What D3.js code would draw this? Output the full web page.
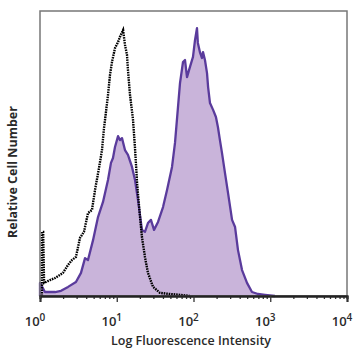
<!DOCTYPE html>
<html><head><meta charset="utf-8">
<script src="https://cdn.jsdelivr.net/npm/d3@7"></script>
<style>body{margin:0;background:#fff}svg{display:block}</style>
</head><body>
<script>
// Isotype control (black dotted)
const isoX = [1.06, 1.06, 1.1, 1.13, 1.35, 1.57, 1.82, 1.99, 2.32, 2.61, 2.94, 3.32, 3.74, 4.22, 4.76, 5.21, 5.87, 6.42, 6.82, 7.24, 7.69, 8.16, 8.67, 9.49, 10.4, 11.0, 12.1, 12.8, 13.6, 14.0, 14.9, 16.3, 17.3, 18.4, 20.1, 21.3, 23.3, 25.5, 29.7, 36.6, 49.4, 66.7, 90];
const isoY = [0, 22.5, 22.5, 4.6, 5.6, 6.3, 7.4, 8.1, 10.9, 12.6, 13.7, 20.4, 22.5, 29.1, 30.2, 37.2, 44.9, 51.2, 58.9, 64.6, 70.5, 77.5, 82.1, 87.0, 89.1, 90.9, 93.3, 88.1, 84.6, 79.3, 70.5, 61.8, 51.9, 39.6, 27.7, 20.7, 13.7, 8.1, 3.2, 1.1, 0.7, 0.4, 0];
// Stained sample (purple filled)
const stainX = [1.0, 1.0, 1.16, 1.35, 1.57, 1.88, 2.32, 2.94, 3.42, 3.86, 4.22, 4.91, 5.70, 6.62, 7.69, 8.41, 8.93, 9.49, 10.4, 11.0, 11.7, 12.8, 14.0, 15.8, 17.3, 18.9, 21.3, 23.3, 25.5, 27.9, 30.6, 34.5, 40.1, 45.2, 52.5, 57.4, 62.8, 66.7, 73.0, 77.5, 82.3, 90.0, 98.5, 104.6, 111, 114, 122, 129, 133, 141, 150, 155, 164, 180, 196, 208, 221, 235, 257, 282, 318, 348, 380, 429, 498, 578, 692, 855, 1150];
const stainY = [0, 4.6, 1.4, 1.4, 1.4, 1.8, 3.2, 4.9, 8.1, 13.3, 12.6, 19.6, 27.7, 33.0, 40.7, 46.7, 48.4, 52.3, 56.1, 54.7, 55.4, 51.2, 49.5, 45.3, 40.7, 33.7, 23.2, 22.5, 25.6, 26.7, 23.2, 26.0, 31.2, 37.2, 45.3, 53.7, 66.3, 74.7, 82.1, 82.8, 76.8, 80.4, 83.9, 89.8, 94.0, 88.8, 85.3, 83.5, 85.6, 82.8, 78.2, 73.3, 67.7, 65.3, 62.8, 59.3, 54.7, 50.2, 43.2, 36.1, 26.7, 24.2, 16.1, 9.1, 4.6, 1.4, 0.7, 0.4, 0];
const tickExps = [0, 1, 2, 3, 4];
const xTitle = "Log Fluorescence Intensity";
const yTitle = "Relative Cell Number";

const W = 358, H = 358;
const m = {l: 40, r: 11, t: 11, b: 62};
const svg = d3.select("body").append("svg").attr("width", W).attr("height", H);
const x = d3.scaleLog().domain([1, 10000]).range([m.l, W - m.r]);
const y = d3.scaleLinear().domain([0, 100]).range([H - m.b, m.t]);

const iso = isoX.map((v, i) => [v, isoY[i]]);
const stain = stainX.map((v, i) => [v, stainY[i]]);

svg.append("path").datum(stain)
  .attr("d", d3.area().x(d => x(d[0])).y0(y(0)).y1(d => y(d[1])))
  .attr("fill", "#c9b4da");
svg.append("path").datum(stain)
  .attr("d", d3.line().x(d => x(d[0])).y(d => y(d[1])))
  .attr("fill", "none").attr("stroke", "#5a3b9c").attr("stroke-width", 2.3).attr("stroke-linejoin", "round");
svg.append("path").datum(iso)
  .attr("d", d3.line().x(d => x(d[0])).y(d => y(d[1])))
  .attr("fill", "none").attr("stroke", "#000").attr("stroke-width", 2.4).attr("stroke-dasharray", "1.6,0.9");

// frame
svg.append("rect").attr("x", m.l).attr("y", m.t).attr("width", W - m.l - m.r).attr("height", H - m.t - m.b)
  .attr("fill", "none").attr("stroke", "#777").attr("stroke-width", 1.5);

// axis
const majors = tickExps.map(e => Math.pow(10, e));
const minors = [];
for (let e = 0; e < 4; e++) for (let k = 2; k <= 9; k++) minors.push(k * Math.pow(10, e));
const gx = svg.append("g").attr("transform", `translate(0,${H - m.b})`);
gx.call(d3.axisBottom(x).tickValues(minors).tickSize(3).tickFormat(""));
gx.append("g").call(d3.axisBottom(x).tickValues(majors).tickSize(6).tickFormat(""));
gx.selectAll("path.domain").attr("stroke", "#222").attr("stroke-width", 2);
gx.selectAll(".tick line").attr("stroke", "#333").attr("stroke-width", 1.3);

const lab = svg.append("g").attr("font-family", "'Open Sans', sans-serif").attr("font-weight", 600).attr("fill", "#2a2a2a");
tickExps.forEach(e => {
  const t = lab.append("text").attr("x", x(Math.pow(10, e)) - 5).attr("y", 326)
    .attr("text-anchor", "middle").attr("font-size", 13);
  t.append("tspan").text("10");
  t.append("tspan").attr("dy", -5).attr("font-size", 10).text(String(e));
});
lab.append("text").attr("x", 191).attr("y", 345).attr("text-anchor", "middle").attr("font-size", 12.5).text(xTitle);
lab.append("text").attr("transform", "translate(17,172) rotate(-90)").attr("text-anchor", "middle")
  .attr("font-size", 12.5).attr("font-weight", 700).text(yTitle);
</script>
</body></html>
